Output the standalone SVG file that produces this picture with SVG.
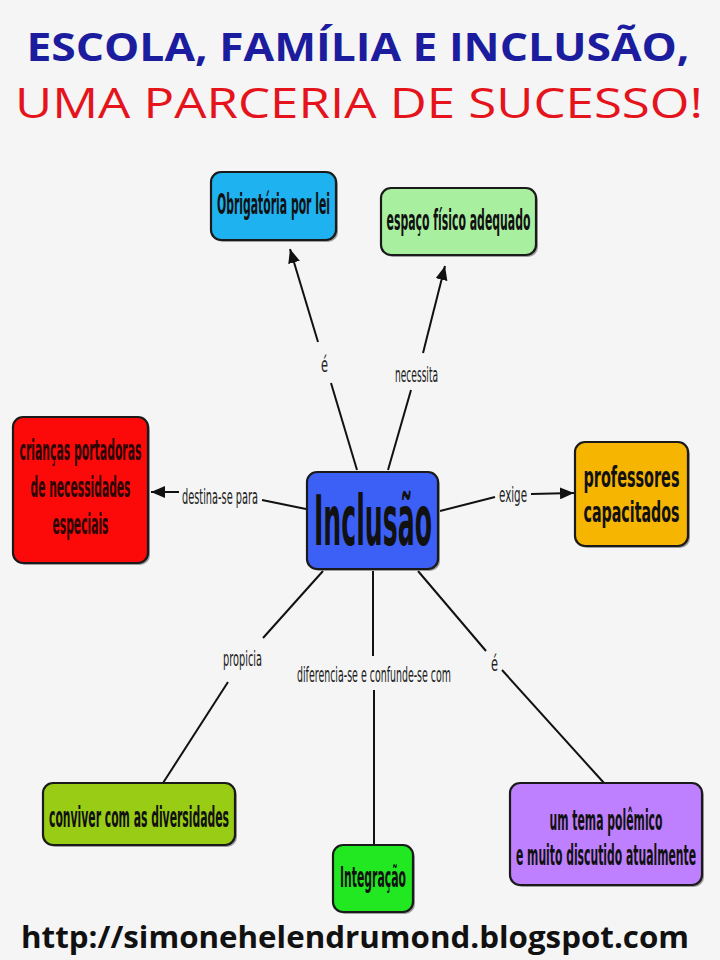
<svg xmlns="http://www.w3.org/2000/svg" width="720" height="960" viewBox="0 0 720 960">
<defs>
<style>
.bg{fill:#f5f5f5}
.box{stroke:#1a1a1a;stroke-width:2.2}
.sh{fill:#555;opacity:0.55}
.nt{font-family:'DejaVu Sans Condensed','DejaVu Sans',sans-serif;font-weight:bold;font-size:28px;fill:#111;text-anchor:middle}
.lb{font-family:'DejaVu Sans Condensed','DejaVu Sans',sans-serif;font-size:21px;fill:#222;text-anchor:middle}
.ln{stroke:#111;stroke-width:2;fill:none}
.t1{font-family:'Open Sans','Liberation Sans',sans-serif;font-weight:bold;font-size:40px;fill:#1c1c9e;text-anchor:middle}
.t2{font-family:'Open Sans','Liberation Sans',sans-serif;font-size:42px;fill:#e5141c;text-anchor:middle}
.url{font-family:'Open Sans','Liberation Sans',sans-serif;font-weight:bold;font-size:30px;fill:#111;text-anchor:middle}
</style>
<marker id="ah" markerUnits="userSpaceOnUse" markerWidth="16" markerHeight="12" refX="14" refY="6" orient="auto">
<path d="M0,0 L14,6 L0,12 z" fill="#111"/>
</marker>
</defs>
<rect class="bg" x="0" y="0" width="720" height="960"/>

<g id="title">
<text class="t1" x="358" y="61" textLength="663" lengthAdjust="spacingAndGlyphs">ESCOLA, FAMÍLIA E INCLUSÃO,</text>
<text class="t2" x="359" y="118" textLength="688" lengthAdjust="spacingAndGlyphs">UMA PARCERIA DE SUCESSO!</text>
</g>

<g id="connectors">
<line class="ln" x1="357" y1="470" x2="331" y2="383"/>
<line class="ln" x1="318" y1="342" x2="290" y2="249" marker-end="url(#ah)"/>
<text class="lb" x="324.5" y="372" textLength="7" lengthAdjust="spacingAndGlyphs">é</text>

<line class="ln" x1="388" y1="470" x2="411" y2="390"/>
<line class="ln" x1="423" y1="353" x2="445" y2="266" marker-end="url(#ah)"/>
<text class="lb" x="416.5" y="382" textLength="43" lengthAdjust="spacingAndGlyphs">necessita</text>

<line class="ln" x1="306" y1="509" x2="262" y2="500"/>
<line class="ln" x1="179" y1="492" x2="151" y2="492" marker-end="url(#ah)"/>
<text class="lb" x="220" y="504" textLength="76" lengthAdjust="spacingAndGlyphs">destina-se para</text>

<line class="ln" x1="440" y1="511" x2="495" y2="497"/>
<line class="ln" x1="531" y1="494" x2="574" y2="493" marker-end="url(#ah)"/>
<text class="lb" x="513" y="502" textLength="28" lengthAdjust="spacingAndGlyphs">exige</text>

<line class="ln" x1="323" y1="571" x2="263" y2="638"/>
<line class="ln" x1="228" y1="682" x2="163" y2="783"/>
<text class="lb" x="242.5" y="666" textLength="39" lengthAdjust="spacingAndGlyphs">propicia</text>

<line class="ln" x1="373" y1="571" x2="373" y2="656"/>
<line class="ln" x1="374" y1="690" x2="374" y2="845"/>
<text class="lb" x="374" y="682" textLength="154" lengthAdjust="spacingAndGlyphs">diferencia-se e confunde-se com</text>

<line class="ln" x1="418" y1="571" x2="486" y2="651"/>
<line class="ln" x1="502" y1="670" x2="604" y2="783"/>
<text class="lb" x="494.5" y="671" textLength="7" lengthAdjust="spacingAndGlyphs">é</text>
</g>

<g id="n-obrigatoria">
<rect class="sh" x="213" y="174" width="125" height="68" rx="10"/>
<rect class="box" x="211" y="172" width="125" height="68" rx="10" fill="#1eb2f0"/>
<text class="nt" x="273.5" y="214" textLength="113" lengthAdjust="spacingAndGlyphs">Obrigatória por lei</text>
</g>

<g id="n-espaco">
<rect class="sh" x="383" y="190" width="155" height="67" rx="10"/>
<rect class="box" x="381" y="188" width="155" height="67" rx="10" fill="#a8f0a0"/>
<text class="nt" x="458.5" y="230" textLength="144" lengthAdjust="spacingAndGlyphs">espaço físico adequado</text>
</g>

<g id="n-criancas">
<rect class="sh" x="15" y="419" width="135" height="146" rx="10"/>
<rect class="box" x="13" y="417" width="135" height="146" rx="10" fill="#fc0a0a"/>
<text class="nt" x="80.5" y="460" textLength="122" lengthAdjust="spacingAndGlyphs" style="fill:#2a0505">crianças portadoras</text>
<text class="nt" x="80.5" y="497" textLength="100" lengthAdjust="spacingAndGlyphs" style="fill:#2a0505">de necessidades</text>
<text class="nt" x="80.5" y="534" textLength="56" lengthAdjust="spacingAndGlyphs" style="fill:#2a0505">especiais</text>
</g>

<g id="n-inclusao">
<rect class="sh" x="309" y="474" width="131" height="97" rx="10"/>
<rect class="box" x="307" y="472" width="131" height="97" rx="10" fill="#3c60f6"/>
<text class="nt" x="373" y="545" textLength="118" lengthAdjust="spacingAndGlyphs" style="font-size:70px">Inclusão</text>
</g>

<g id="n-professores">
<rect class="sh" x="577" y="444" width="113" height="104" rx="10"/>
<rect class="box" x="575" y="442" width="113" height="104" rx="10" fill="#f6b500"/>
<text class="nt" x="631.5" y="487" textLength="96" lengthAdjust="spacingAndGlyphs">professores</text>
<text class="nt" x="631.5" y="522" textLength="96" lengthAdjust="spacingAndGlyphs">capacitados</text>
</g>

<g id="n-conviver">
<rect class="sh" x="45" y="785" width="192" height="62" rx="10"/>
<rect class="box" x="43" y="783" width="192" height="62" rx="10" fill="#99cc14"/>
<text class="nt" x="139" y="827" textLength="180" lengthAdjust="spacingAndGlyphs">conviver com as diversidades</text>
</g>

<g id="n-integracao">
<rect class="sh" x="335" y="847" width="80" height="67" rx="10"/>
<rect class="box" x="333" y="845" width="80" height="67" rx="10" fill="#22e822"/>
<text class="nt" x="373" y="887" textLength="66" lengthAdjust="spacingAndGlyphs">Integração</text>
</g>

<g id="n-tema">
<rect class="sh" x="512" y="785" width="192" height="102" rx="10"/>
<rect class="box" x="510" y="783" width="192" height="102" rx="10" fill="#bf80ff"/>
<text class="nt" x="606" y="830" textLength="113" lengthAdjust="spacingAndGlyphs">um tema polêmico</text>
<text class="nt" x="606" y="865" textLength="180" lengthAdjust="spacingAndGlyphs">e muito discutido atualmente</text>
</g>

<g id="footer">
<text class="url" x="355" y="948" textLength="668" lengthAdjust="spacingAndGlyphs">http://simonehelendrumond.blogspot.com</text>
</g>
</svg>
